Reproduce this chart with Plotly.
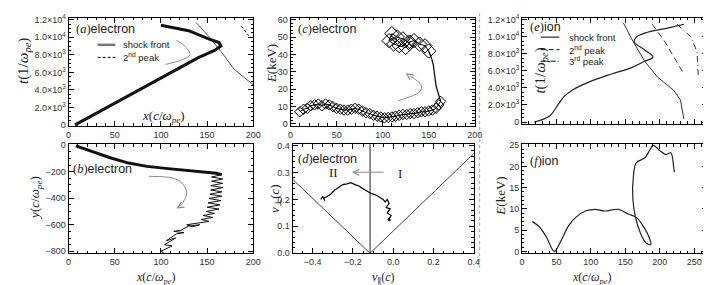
import plotly.graph_objects as go

W, H = 711, 285

# ---------------- data ----------------
# (a) electron x vs t
a_x = [7, 40, 75, 110, 140, 158, 165, 163, 151, 130, 115, 100]
a_t = [0, 1900, 3900, 5900, 7650, 8500, 9000, 9400, 9850, 10750, 11100, 11380]
a_shock_x = [138, 151, 165, 179, 192, 200]
a_shock_t = [11700, 10200, 8400, 6400, 5250, 4600]
a_peak2_x = [187, 195]
a_peak2_t = [11300, 10200]

# (b) electron x vs y
b_top_x = [8, 25, 45, 65, 85, 105, 125, 145, 160, 166]
b_top_y = [-5, -45, -95, -135, -160, -175, -188, -200, -212, -222]
b_zig_x = [166, 155, 167, 155, 167, 154, 167, 154, 166, 153, 166, 152, 165, 151, 164, 150, 163, 149,
           158, 146, 156, 144, 152, 140, 128, 134, 142, 130, 122, 114, 125, 117, 112, 106, 116, 104, 112, 100, 103]
b_zig_y = [-222, -240, -255, -272, -288, -305, -320, -338, -352, -370, -385, -402, -418, -435, -450, -468, -482, -500,
           -515, -530, -545, -560, -575, -590, -600, -615, -600, -610, -640, -650, -660, -668, -690, -720, -700, -750, -760, -800, -810]

# (c) electron x vs E
c_low_x = [10, 14, 18, 22, 26, 30, 34, 38, 42, 46, 50, 54, 58, 62, 66, 70, 74, 78, 82, 86, 90, 94, 98, 102,
           106, 110, 114, 118, 122, 126, 130, 134, 138, 142, 146, 150, 154, 158, 161, 163]
c_low_E = [7, 8.5, 9, 10.5, 11, 11.5, 10.5, 11.5, 11, 10, 9, 8.5, 8, 8, 8.5, 9, 8.5, 7.5, 6.5, 6, 5, 4.5, 4, 3.5,
           3.8, 4, 4.5, 5, 5.5, 5.5, 6, 6, 6.5, 7, 7, 7.5, 8, 9, 11, 13]
c_mid_x = [163, 162, 160, 158, 157, 156, 155, 153, 150]
c_mid_E = [13, 15, 18, 22, 26, 30, 34, 38, 42]
c_up_x = [150, 146, 140, 134, 128, 122, 116, 110, 107, 112, 118, 125, 130]
c_up_E = [42, 45, 46, 48, 47, 49, 50, 52, 48, 46, 45, 44, 47]

# (d) electron v_par vs v_perp
d_vpar = [-0.36, -0.35, -0.34, -0.345, -0.33, -0.31, -0.29, -0.27, -0.25, -0.23, -0.21, -0.19, -0.17, -0.15,
          -0.13, -0.11, -0.09, -0.07, -0.05, -0.04, -0.03, -0.02, -0.035, -0.015, -0.03, -0.01, -0.025, -0.015, -0.02]
d_vperp = [0.20, 0.21, 0.195, 0.205, 0.21, 0.22, 0.235, 0.245, 0.255, 0.258, 0.262, 0.255, 0.25, 0.24,
           0.232, 0.222, 0.218, 0.21, 0.20, 0.19, 0.20, 0.185, 0.17, 0.165, 0.15, 0.14, 0.125, 0.12, 0.13]
d_cone_left_x = [-0.5, -0.115]
d_cone_left_y = [0.275, 0.0]
d_cone_right_x = [-0.115, 0.4]
d_cone_right_y = [0.0, 0.37]
d_vline_x = [-0.115, -0.115]
d_vline_y = [0.0, 0.41]

# (e) ion x vs t
e_x = [18, 40, 54, 61, 73, 97, 130, 159, 178, 189, 190, 178, 163, 166, 182, 216, 235]
e_t = [0, 713, 2230, 2980, 3740, 4680, 5630, 6380, 7140, 7510, 7700, 8460, 9400, 9970, 10530, 11100, 11470]
e_shock_x = [147, 159, 178, 197, 220, 230, 235]
e_shock_t = [11660, 9770, 7140, 5250, 3740, 2600, 340]
e_peak2_x = [189, 206, 220, 235]
e_peak2_t = [11470, 9590, 7700, 5630]
e_peak3_x = [225, 245, 254, 256]
e_peak3_t = [11470, 10000, 8270, 5250]

# (f) ion x vs E
f_x = [15, 25, 35, 47, 56, 68, 78, 92, 106, 120, 140, 154, 166, 178, 185, 187, 180, 168, 161, 162, 166, 178,
       187, 190, 201, 209, 216, 220, 221]
f_E = [7.0, 5.8, 3.5, 0.0, 2.3, 6.1, 8.0, 9.5, 9.9, 9.5, 9.9, 8.8, 8.0, 5.4, 3.1, 1.6, 2.0, 6.1, 12.2, 18.2,
       20.9, 22.0, 24.3, 25.0, 23.6, 22.8, 23.2, 20.1, 18.6]

t_ticks = [0, 2000, 4000, 6000, 8000, 10000, 12000]
t_labels = ["0", "2.0×10<sup>3</sup>", "4.0×10<sup>3</sup>", "6.0×10<sup>3</sup>", "8.0×10<sup>3</sup>",
            "1.0×10<sup>4</sup>", "1.2×10<sup>4</sup>"]

# ---------------- figure ----------------
fig = go.Figure()


def xdom(l, r):
    return [l / W, r / W]


def ydom(top, bot):
    return [1 - bot / H, 1 - top / H]


def ax_name(k, letter):
    return letter if k == 1 else f"{letter}{k}"


def add(k, x, y, color="black", width=1, dash="solid", mode="lines", marker=None, shape="linear"):
    fig.add_trace(go.Scatter(x=x, y=y, xaxis=ax_name(k, "x"), yaxis=ax_name(k, "y"), mode=mode,
                             line=dict(color=color, width=width, dash=dash, shape=shape),
                             marker=marker, showlegend=False, hoverinfo="skip"))


GRAY = "#8a8a8a"

# (a)
add(1, a_shock_x, a_shock_t, color="#555555", width=1)
add(1, a_peak2_x, a_peak2_t, color="black", width=1, dash="3px,2px")
add(1, a_x, a_t, color="#111111", width=3)
# (b)
add(2, b_top_x, b_top_y, color="#111111", width=3)
add(2, b_zig_x, b_zig_y, color="#111111", width=1)
# (c)
dmk = dict(symbol="diamond-open", size=8, color="black", line=dict(width=1, color="black"))
add(3, c_low_x, c_low_E, width=1, mode="lines+markers", marker=dmk)
add(3, c_mid_x, c_mid_E, width=1.2)
add(3, c_up_x, c_up_E, width=1, mode="lines+markers",
    marker=dict(symbol="diamond-open", size=11, color="black", line=dict(width=1, color="black")))
# (d)
add(4, d_cone_left_x, d_cone_left_y, color="#444444", width=1)
add(4, d_cone_right_x, d_cone_right_y, color="#444444", width=1)
add(4, d_vline_x, d_vline_y, color="#444444", width=1.2)
add(4, d_vpar, d_vperp, color="black", width=1.2)
# (e)
add(5, e_shock_x, e_shock_t, color="#333333", width=1)
add(5, e_peak2_x, e_peak2_t, color="#333333", width=1, dash="6px,4px")
add(5, e_peak3_x, e_peak3_t, color="#333333", width=1, dash="6px,3px,1px,3px")
add(5, e_x, e_t, color="#222222", width=1.2, shape="spline")
# (f)
add(6, f_x, f_E, color="#222222", width=1.2, shape="spline")

# curved gray arrows (decoration)
add(1, [105, 131.6, 122.7, 116.5], [6900, 8000, 9280, 9620], color=GRAY, width=1, shape="spline")
add(2, [87, 119, 128, 121], [-235, -264, -361, -460], color=GRAY, width=1, shape="spline")
add(3, [117, 140, 142, 130], [13.5, 18.5, 22.2, 27.5], color=GRAY, width=1, shape="spline")

axis_common = dict(showline=True, linecolor="black", linewidth=1, mirror="allticks", ticks="inside",
                   ticklen=5, tickcolor="black", tickwidth=1, showgrid=False, zeroline=False,
                   tickfont=dict(family="Liberation Sans, Arial", size=9, color="#333333"), fixedrange=True)


def minor(dt, t0=0):
    return dict(ticks="inside", ticklen=2.5, tickcolor="black", tickmode="linear", tick0=t0, dtick=dt,
                showgrid=False)


boxes = {
    1: dict(xd=xdom(58.5, 246), yd=ydom(5, 117), xr=[0, 200], yr=[-110, 12220]),
    2: dict(xd=xdom(58.5, 246), yd=ydom(136, 249), xr=[0, 200], yr=[-815, 7]),
    3: dict(xd=xdom(284, 471), yd=ydom(5, 117), xr=[0, 200], yr=[-1.1, 61.1]),
    4: dict(xd=xdom(286, 470), yd=ydom(136, 249), xr=[-0.5, 0.4], yr=[0, 0.405]),
    5: dict(xd=xdom(519, 707), yd=ydom(5, 115), xr=[0, 268.6], yr=[-226, 12226]),
    6: dict(xd=xdom(519, 707), yd=ydom(136, 249), xr=[0, 268.6], yr=[-0.45, 25.23]),
}

xt = {
    1: dict(tickvals=[0, 50, 100, 150, 200], minor=minor(10)),
    2: dict(tickvals=[0, 50, 100, 150, 200], minor=minor(10)),
    3: dict(tickvals=[0, 50, 100, 150, 200], minor=minor(10)),
    4: dict(tickvals=[-0.4, -0.2, 0, 0.2, 0.4], ticktext=["−0.4", "−0.2", "0.0", "0.2", "0.4"],
            minor=minor(0.05)),
    5: dict(tickvals=[0, 50, 100, 150, 200, 250], showticklabels=False, minor=minor(10)),
    6: dict(tickvals=[0, 50, 100, 150, 200, 250], minor=minor(10)),
}
yt = {
    1: dict(tickvals=t_ticks, ticktext=t_labels, minor=minor(500)),
    2: dict(tickvals=[-800, -600, -400, -200, 0], ticktext=["−800", "−600", "−400", "−200", "0"], minor=minor(50)),
    3: dict(tickvals=[0, 10, 20, 30, 40, 50, 60], minor=minor(2)),
    4: dict(tickvals=[0, 0.1, 0.2, 0.3, 0.4], ticktext=["0.0", "0.1", "0.2", "0.3", "0.4"], minor=minor(0.02)),
    5: dict(tickvals=t_ticks, ticktext=t_labels, minor=minor(500)),
    6: dict(tickvals=[0, 5, 10, 15, 20, 25], minor=minor(1)),
}

lay = dict(width=W, height=H, margin=dict(l=0, r=0, t=0, b=0), paper_bgcolor="white", plot_bgcolor="white",
           showlegend=False)
for k, b in boxes.items():
    xn = "xaxis" if k == 1 else f"xaxis{k}"
    yn = "yaxis" if k == 1 else f"yaxis{k}"
    lay[xn] = dict(axis_common, domain=b["xd"], range=b["xr"], anchor=ax_name(k, "y"), **xt[k])
    lay[yn] = dict(axis_common, domain=b["yd"], range=b["yr"], anchor=ax_name(k, "x"), **yt[k])
fig.update_layout(**lay)

SERIF = "Liberation Serif, DejaVu Serif"
SANS = "Liberation Sans, Arial"
anns = []


def pa(xp, yp, text, size=13, family=SERIF, angle=0, xanchor="center", color="#222222"):
    anns.append(dict(x=xp / W, y=1 - yp / H, xref="paper", yref="paper", text=text, showarrow=False,
                     textangle=angle, xanchor=xanchor, yanchor="middle",
                     font=dict(family=family, size=size, color=color)))


# axis titles
pa(13, 50, "<i>t</i>(1/<i>ω</i><sub><i>pe</i></sub>)", size=15, angle=-90)
pa(25, 192, "<i>y</i>(<i>c</i>/<i>ω</i><sub><i>pe</i></sub>)", size=13, angle=-90)
pa(264, 52, "<i>E</i>(keV)", size=13, angle=-90)
pa(268, 192, "<i>v</i><sub>⊥</sub>(<i>c</i>)", size=13, angle=-90)
pa(538, 60, "<i>t</i>(1/<i>ω</i><sub><i>pe</i></sub>)", size=15, angle=-90)
pa(497, 190, "<i>E</i>(keV)", size=13, angle=-90)
pa(155, 107, "<i>x</i>(<i>c</i>/<i>ω</i><sub><i>pe</i></sub>)", size=13)
pa(147, 275, "<i>x</i>(<i>c</i>/<i>ω</i><sub><i>pe</i></sub>)", size=12)
pa(378, 275, "<i>v</i><sub>∥</sub>(<i>c</i>)", size=12)
pa(590, 275, "<i>x</i>(<i>c</i>/<i>ω</i><sub><i>pe</i></sub>)", size=12)

# panel labels
lab = '<span style="font-family:Liberation Serif">(<i>{0}</i>)</span>{1}'
pa(64, 17, lab.format("a", "electron"), size=12.5, family=SANS, xanchor="left")
pa(61, 162, lab.format("b", "electron"), size=12.5, family=SANS, xanchor="left")
pa(289, 17, lab.format("c", "electron"), size=12.5, family=SANS, xanchor="left")
pa(289, 151, lab.format("d", "electron"), size=12.5, family=SANS, xanchor="left")
pa(525, 15, lab.format("e", "ion"), size=12.5, family=SANS, xanchor="left")
pa(525, 153, lab.format("f", "ion"), size=12.5, family=SANS, xanchor="left")

# legends text
pa(112, 33, "shock front", size=9.5, family=SANS, xanchor="left")
pa(112, 46, "2<sup>nd</sup> peak", size=9.5, family=SANS, xanchor="left")
pa(565, 25, "shock front", size=9.5, family=SANS, xanchor="left")
pa(565, 38, "2<sup>nd</sup> peak", size=9.5, family=SANS, xanchor="left")
pa(565, 50, "3<sup>rd</sup> peak", size=9.5, family=SANS, xanchor="left")

# roman numerals in (d)
pa(328, 165, "II", size=13)
pa(395, 166, "I", size=13)

# arrow heads
def head(k, hx, hy, tx, ty):
    anns.append(dict(x=hx, y=hy, ax=tx, ay=ty, xref=ax_name(k, "x"), yref=ax_name(k, "y"),
                     axref=ax_name(k, "x"), ayref=ax_name(k, "y"), text="", showarrow=True,
                     arrowhead=5, arrowsize=1.2, arrowwidth=1, arrowcolor=GRAY, standoff=0))


head(1, 115, 9680, 118, 9500)
head(2, 117, -478, 121, -460)
head(3, 125, 29.2, 129, 27.8)
head(4, -0.205, 0.301, -0.04, 0.301)
fig.update_layout(annotations=anns)

# legend line samples and separator (paper-pixel positions)
shapes = []


def seg(x0, y0, x1, y1, color="black", width=1, dash="solid"):
    shapes.append(dict(type="line", xref="paper", yref="paper", x0=x0 / W, x1=x1 / W, y0=1 - y0 / H,
                       y1=1 - y1 / H, line=dict(color=color, width=width, dash=dash)))


seg(88, 33, 106, 33, color="#777777", width=2.5)
seg(88, 46, 106, 46, color="black", width=1, dash="3px,2px")
seg(538, 25, 557, 25, color="black", width=1)
seg(538, 38, 557, 38, color="black", width=1, dash="5px,3px")
seg(538, 50, 557, 50, color="black", width=1, dash="5px,2px,1px,2px")
seg(476, 0, 476, 268, color="#aaaaaa", width=1, dash="3px,3px")
fig.update_layout(shapes=shapes)

fig.write_html("out.html")
